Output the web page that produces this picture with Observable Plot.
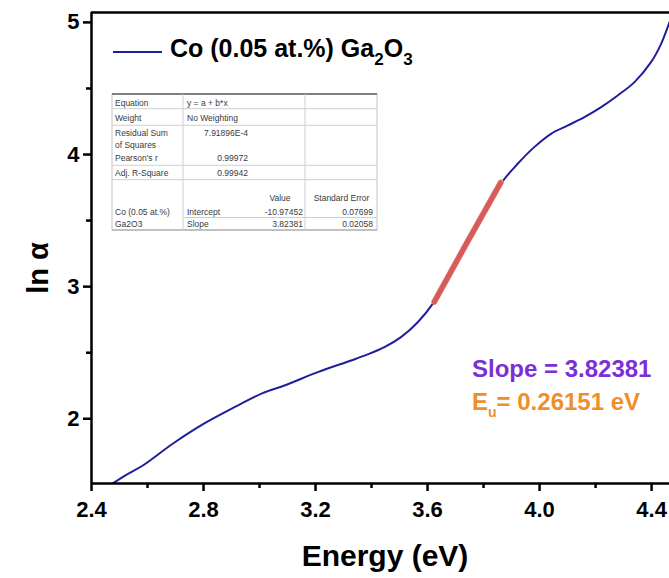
<!DOCTYPE html>
<html><head><meta charset="utf-8">
<script src="https://cdn.jsdelivr.net/npm/d3@7"></script>
<script src="https://cdn.jsdelivr.net/npm/@observablehq/plot@0.6"></script>
<style>
html,body{margin:0;padding:0;background:#fff;}
#chart{width:669px;height:578px;position:relative;}
svg{display:block;}
</style></head><body><div id="chart"></div>
<script>
// ---- data ----
const energy  = [2.468, 2.520, 2.583, 2.690, 2.797, 2.916, 3.011, 3.089, 3.208, 3.327, 3.386, 3.446, 3.505, 3.565, 3.619, 3.700, 3.780, 3.862, 3.922, 3.981, 4.041, 4.101, 4.160, 4.220, 4.279, 4.339, 4.398, 4.434, 4.464];
const lnAlpha = [1.500, 1.570, 1.646, 1.811, 1.957, 2.093, 2.194, 2.252, 2.353, 2.441, 2.487, 2.542, 2.618, 2.731, 2.871, 3.170, 3.480, 3.780, 3.930, 4.056, 4.157, 4.220, 4.283, 4.359, 4.447, 4.548, 4.699, 4.838, 5.002];
const fitEnergy  = [3.624, 3.740, 3.862];
const fitLnAlpha = [2.885, 3.330, 3.790];
const xDomain = [2.4, 4.464];
const yDomain = [1.51, 5.075];
const xMajorTicks = [2.4, 2.8, 3.2, 3.6, 4.0, 4.4];
const xTickLabels = ["2.4", "2.8", "3.2", "3.6", "4.0", "4.4"];
const xMinorTicks = [2.6, 3.0, 3.4, 3.8, 4.2];
const yMajorTicks = [2, 3, 4, 5];
const yTickLabels = ["2", "3", "4", "5"];
const yMinorTicks = [2.5, 3.5, 4.5];
const xLabel = "Energy (eV)";
const yLabel = "ln α";
const seriesMain = "Co (0.05 at.%) Ga";
const slopeText = "Slope = 3.82381";
const euValue = "= 0.26151 eV";
// fit report table text
const tableLeft   = ["Equation", "Weight", "Residual Sum", "of Squares", "Pearson's r", "Adj. R-Square"];
const tableMid    = ["y = a + b*x", "No Weighting"];
const tableStats  = ["7.91896E-4", "0.99972", "0.99942"];
const tableHeader = ["Value", "Standard Error"];
const tableSeries = ["Co (0.05 at.%)", "Ga2O3"];
const tableParams = ["Intercept", "Slope"];
const tableValues = ["-10.97452", "3.82381"];
const tableErrors = ["0.07699", "0.02058"];

const FONT = '"Liberation Sans", Arial, Helvetica, sans-serif';
const BLUE = "#1f1f9e";
const curve = energy.map((e, i) => ({e, v: lnAlpha[i]}));
const fit = fitEnergy.map((e, i) => ({e, v: fitLnAlpha[i]}));

const plot = Plot.plot({
  width: 669, height: 578,
  marginLeft: 91, marginRight: 0, marginTop: 12, marginBottom: 95,
  style: {fontFamily: FONT, background: "white", color: "black"},
  x: {domain: xDomain, label: null},
  y: {domain: yDomain, label: null},
  marks: [
    Plot.line(curve, {x: "e", y: "v", stroke: BLUE, strokeWidth: 2, curve: "catmull-rom", clip: true}),
    Plot.line(fit, {x: "e", y: "v", stroke: "#e8847e", strokeWidth: 6}),
    Plot.line(fit, {x: "e", y: "v", stroke: "#c43c3c", strokeWidth: 5, strokeDasharray: "1 2", strokeOpacity: 0.55}),
    Plot.axisX(xMajorTicks, {tickSize: 8, strokeWidth: 2.5, tickPadding: 10, fontSize: 22, fontWeight: "bold",
      tickFormat: d => xTickLabels[xMajorTicks.indexOf(d)], label: null}),
    Plot.axisX(xMinorTicks, {tickSize: 5, strokeWidth: 2.5, tickFormat: () => "", label: null}),
    Plot.axisY(yMajorTicks, {tickSize: 8, strokeWidth: 2.5, tickPadding: 4, fontSize: 22, fontWeight: "bold",
      tickFormat: d => yTickLabels[yMajorTicks.indexOf(d)], label: null}),
    Plot.axisY(yMinorTicks, {tickSize: 5, strokeWidth: 2.5, tickFormat: () => "", label: null}),
    Plot.ruleX([xDomain[0]], {strokeWidth: 2.5}),
    Plot.ruleY([yDomain[0]], {strokeWidth: 2.5}),
    Plot.ruleY([yDomain[1]], {strokeWidth: 2.5})
  ]
});
document.getElementById("chart").appendChild(plot);

const svg = d3.select(plot);
// axis titles
svg.append("text").attr("x", 385).attr("y", 566).attr("text-anchor", "middle")
  .attr("font-family", FONT).attr("font-weight", "bold").attr("font-size", 30).attr("fill", "black").text(xLabel);
svg.append("text").attr("transform", "translate(48,268) rotate(-90)").attr("text-anchor", "middle")
  .attr("font-family", FONT).attr("font-weight", "bold").attr("font-size", 29).attr("fill", "black").text(yLabel);

// legend
svg.append("line").attr("x1", 113).attr("x2", 162).attr("y1", 52).attr("y2", 52).attr("stroke", BLUE).attr("stroke-width", 2);
const lg = svg.append("text").attr("x", 170).attr("y", 57).attr("text-anchor", "start").attr("font-family", FONT).attr("font-weight", "bold")
  .attr("font-size", 25).attr("fill", "black");
lg.append("tspan").text(seriesMain);
lg.append("tspan").attr("font-size", 17).attr("dy", 8).text("2");
lg.append("tspan").attr("dy", -8).text("O");
lg.append("tspan").attr("font-size", 17).attr("dy", 8).text("3");

// slope / Urbach energy annotation
svg.append("text").attr("x", 472).attr("y", 377).attr("text-anchor", "start").attr("font-family", FONT).attr("font-weight", "bold")
  .attr("font-size", 24).attr("fill", "#7b2fd6").text(slopeText);
const eu = svg.append("text").attr("x", 472).attr("y", 410).attr("text-anchor", "start").attr("font-family", FONT).attr("font-weight", "bold")
  .attr("font-size", 24).attr("fill", "#ef8f2c");
eu.append("tspan").text("E");
eu.append("tspan").attr("font-size", 14).attr("dy", 7).text("u");
eu.append("tspan").attr("dy", -7).text(euValue);

// fit report table
const tb = svg.append("g").attr("font-family", FONT).attr("font-size", 8.5).attr("fill", "#3a3a3a").attr("text-anchor", "start");
tb.append("rect").attr("x", 112).attr("y", 94).attr("width", 265).attr("height", 136).attr("fill", "white")
  .attr("stroke", "#c4c4c4").attr("stroke-width", 1);
tb.append("line").attr("x1", 112).attr("x2", 377).attr("y1", 94).attr("y2", 94).attr("stroke", "#808080").attr("stroke-width", 2);
tb.append("line").attr("x1", 112).attr("x2", 377).attr("y1", 230).attr("y2", 230).attr("stroke", "#a0a0a0").attr("stroke-width", 1.2);
[183, 305].forEach(x => tb.append("line").attr("x1", x).attr("x2", x).attr("y1", 94).attr("y2", 230).attr("stroke", "#cfcfcf"));
[108.7, 125.3, 165.3, 179.7].forEach(y => tb.append("line").attr("x1", 112).attr("x2", 377).attr("y1", y).attr("y2", y).attr("stroke", "#cfcfcf"));
tb.append("line").attr("x1", 183).attr("x2", 377).attr("y1", 217.5).attr("y2", 217.5).attr("stroke", "#cfcfcf");
const leftY = [105.5, 121, 135.5, 147.5, 161, 176];
tableLeft.forEach((t, i) => tb.append("text").attr("x", 115).attr("y", leftY[i]).text(t));
tableMid.forEach((t, i) => tb.append("text").attr("x", 187).attr("y", leftY[i]).text(t));
const statY = [135.5, 161, 176];
tableStats.forEach((t, i) => tb.append("text").attr("x", 248).attr("y", statY[i]).attr("text-anchor", "end").text(t));
tb.append("text").attr("x", 280).attr("y", 201).attr("text-anchor", "middle").text(tableHeader[0]);
tb.append("text").attr("x", 341.5).attr("y", 201).attr("text-anchor", "middle").text(tableHeader[1]);
const rowY = [214.5, 227];
tableSeries.forEach((t, i) => tb.append("text").attr("x", 115).attr("y", rowY[i]).text(t));
tableParams.forEach((t, i) => tb.append("text").attr("x", 187).attr("y", rowY[i]).text(t));
tableValues.forEach((t, i) => tb.append("text").attr("x", 303).attr("y", rowY[i]).attr("text-anchor", "end").text(t));
tableErrors.forEach((t, i) => tb.append("text").attr("x", 373).attr("y", rowY[i]).attr("text-anchor", "end").text(t));
</script>
</body></html>
